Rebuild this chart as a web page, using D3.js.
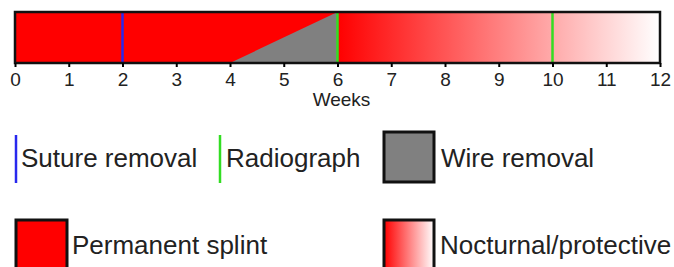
<!DOCTYPE html>
<html>
<head>
<meta charset="utf-8">
<script src="https://cdn.jsdelivr.net/npm/d3@7"></script>
<style>
  body { margin: 0; background: #fff; }
  svg { display: block; font-family: "Liberation Sans", Arial, sans-serif; }
</style>
</head>
<body>
<svg id="chart" width="674" height="267"></svg>
<script>
// data
const weekTicks = [0, 1, 2, 3, 4, 5, 6, 7, 8, 9, 10, 11, 12];
const permanentSplint = [0, 6];
const nocturnal = [6, 12];
const wireRemoval = [4, 6];   // triangle ramps from 4 (bottom) up to 6 (top)
const sutureRemoval = [2];
const radiographs = [6, 10];

const legendRow1 = ["Suture removal", "Radiograph", "Wire removal"];
const legendRow2 = ["Permanent splint", "Nocturnal/protective"];

const svg = d3.select("#chart");
const x = d3.scaleLinear().domain([0, 12]).range([15, 660]);
const barTop = 12, barBottom = 63;

const defs = svg.append("defs");
function fade(id) {
  const g = defs.append("linearGradient").attr("id", id).attr("x1", "0%").attr("x2", "100%");
  g.append("stop").attr("offset", "0%").attr("stop-color", "#ff0000");
  g.append("stop").attr("offset", "100%").attr("stop-color", "#ffffff");
}
fade("fadeBar");
fade("fadeKey");

// permanent splint
svg.append("rect")
  .attr("x", x(permanentSplint[0])).attr("y", barTop)
  .attr("width", x(permanentSplint[1]) - x(permanentSplint[0]))
  .attr("height", barBottom - barTop)
  .attr("fill", "#ff0000");

// nocturnal / protective
svg.append("rect")
  .attr("x", x(nocturnal[0])).attr("y", barTop)
  .attr("width", x(nocturnal[1]) - x(nocturnal[0]))
  .attr("height", barBottom - barTop)
  .attr("fill", "url(#fadeBar)");

// wire removal triangle
svg.append("path")
  .attr("d", d3.line()([[x(wireRemoval[0]), barBottom], [x(wireRemoval[1]), barTop], [x(wireRemoval[1]), barBottom]]) + "Z")
  .attr("fill", "#808080");

// event lines
svg.selectAll(".suture").data(sutureRemoval).enter().append("line")
  .attr("x1", d => x(d)).attr("x2", d => x(d))
  .attr("y1", barTop).attr("y2", barBottom)
  .attr("stroke", "#2828ee").attr("stroke-width", 2.5);

svg.selectAll(".radio").data(radiographs).enter().append("line")
  .attr("x1", d => x(d)).attr("x2", d => x(d))
  .attr("y1", barTop).attr("y2", barBottom)
  .attr("stroke", "#33dd22").attr("stroke-width", 2.5);

// frame
svg.append("rect")
  .attr("x", x(0)).attr("y", barTop)
  .attr("width", x(12) - x(0)).attr("height", barBottom - barTop)
  .attr("fill", "none").attr("stroke", "#111").attr("stroke-width", 2.5);

// axis
const axis = svg.append("g")
  .attr("transform", `translate(0,${barBottom})`)
  .call(d3.axisBottom(x).tickValues(weekTicks).tickFormat(d3.format("d")).tickSize(4).tickPadding(6));
axis.select(".domain").remove();
axis.selectAll(".tick line").attr("stroke", "#000").attr("stroke-width", 2);
axis.selectAll(".tick text")
  .attr("fill", "#222")
  .attr("font-size", "19px")
  .attr("font-family", "'Liberation Sans', Arial, sans-serif");

svg.append("text")
  .attr("x", x(6) + 4).attr("y", 106)
  .attr("text-anchor", "middle")
  .attr("font-size", "19px").attr("fill", "#222")
  .text("Weeks");

// legend
const fs = "26px";
const lg = svg.append("g").attr("fill", "#222").attr("font-size", fs);

lg.append("line").attr("x1", 16).attr("x2", 16).attr("y1", 135).attr("y2", 183)
  .attr("stroke", "#2828ee").attr("stroke-width", 2.5);
lg.append("text").attr("x", 21).attr("y", 167).text(legendRow1[0]);

lg.append("line").attr("x1", 220).attr("x2", 220).attr("y1", 135).attr("y2", 183)
  .attr("stroke", "#33dd22").attr("stroke-width", 2.5);
lg.append("text").attr("x", 226).attr("y", 167).text(legendRow1[1]);

lg.append("rect").attr("x", 384).attr("y", 132).attr("width", 50).attr("height", 50)
  .attr("fill", "#808080").attr("stroke", "#111").attr("stroke-width", 3);
lg.append("text").attr("x", 441).attr("y", 167).text(legendRow1[2]);

lg.append("rect").attr("x", 16).attr("y", 220).attr("width", 51).attr("height", 52)
  .attr("fill", "#ff0000").attr("stroke", "#111").attr("stroke-width", 3);
lg.append("text").attr("x", 72).attr("y", 254).text(legendRow2[0]);

lg.append("rect").attr("x", 384).attr("y", 220).attr("width", 50).attr("height", 52)
  .attr("fill", "url(#fadeKey)").attr("stroke", "#111").attr("stroke-width", 3);
lg.append("text").attr("x", 440).attr("y", 254).text(legendRow2[1]);
</script>
</body>
</html>
